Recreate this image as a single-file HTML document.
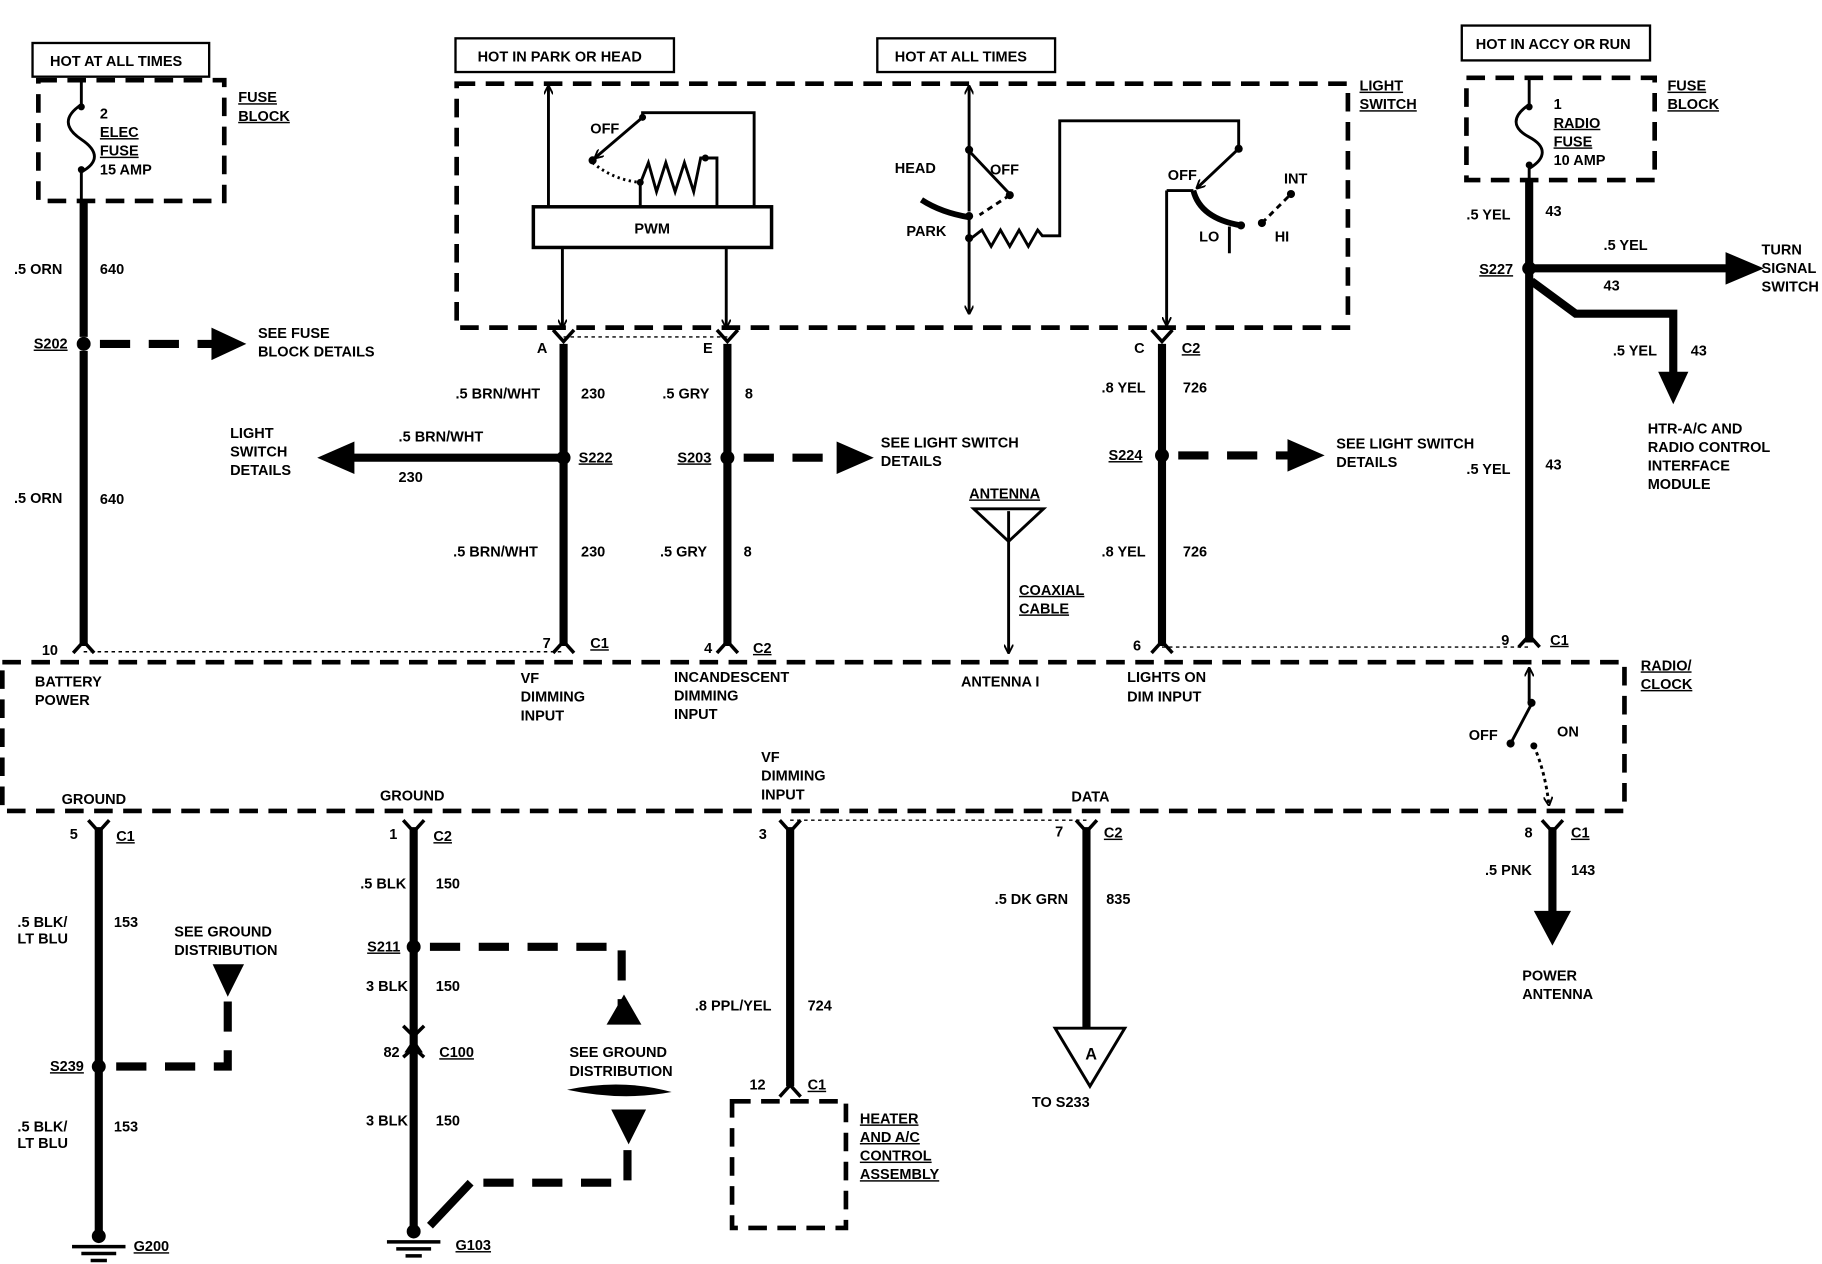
<!DOCTYPE html>
<html><head><meta charset="utf-8"><style>
html,body{margin:0;padding:0;background:#fff;}
svg{display:block;}
text{font-family:"Liberation Sans",sans-serif;font-weight:bold;font-size:12.5px;fill:#000;}
.u{text-decoration:underline;}
</style></head><body>
<svg width="1822" height="1264" viewBox="0 0 1568 1088" preserveAspectRatio="none" xmlns="http://www.w3.org/2000/svg">
<defs>
<marker id="ah" viewBox="0 0 10 10" refX="9" refY="5" markerWidth="8" markerHeight="8" orient="auto" markerUnits="userSpaceOnUse"><path d="M0,0 L10,5 L0,10" fill="none" stroke="#000" stroke-width="2"/></marker>
</defs>
<g fill="none" stroke="#000">
<!-- source boxes -->
<rect x="28" y="37" width="152" height="29" stroke-width="2"/>
<rect x="392" y="33" width="188" height="29" stroke-width="2"/>
<rect x="755" y="33" width="153" height="29" stroke-width="2"/>
<rect x="1258" y="22" width="162" height="30" stroke-width="2"/>
<!-- dashed boxes -->
<g stroke-width="4" stroke-dasharray="16 9">
<rect x="33" y="69" width="160" height="104"/>
<rect x="393" y="72" width="767" height="210"/>
<rect x="1262" y="67" width="162" height="88"/>
<rect x="2" y="570" width="1396" height="128"/>
<rect x="630" y="948" width="98" height="109"/>
</g>
<!-- fuses -->
<path d="M70,70 V90 C55,100 55,110 70,120 C85,130 85,140 70,148 V173" stroke-width="2.5"/>
<path d="M1316,68 V90 C1301,100 1301,110 1316,118 C1331,126 1331,136 1316,145 V158" stroke-width="2.5"/>
<!-- thick wires -->
<g stroke-width="7">
<path d="M72,173 V290 M72,302 V556"/>
<path d="M485,296 V556 M626,296 V556 M1000,296 V556"/>
<path d="M1316,155 V553"/>
<path d="M1320,231 H1490"/>
<path d="M1318,242 L1356,270 H1440 V322"/>
<path d="M485,394 H300"/>
<path d="M85,712 V1062 M356,712 V1058 M680,712 V935 M935,712 V886 M1336,712 V790"/>
<path d="M370,1055 L405,1018"/>
</g>
<!-- dashed thick -->
<g stroke-width="7" stroke-dasharray="26 16">
<path d="M86,296 H185"/>
<path d="M640,394 H722"/>
<path d="M1014,392 H1110"/>
<path d="M370,815 H535 V875"/>
<path d="M540,990 V1018 H405"/>
<path d="M196,862 V918 H96"/>
</g>
<!-- dotted thin -->
<g stroke-width="1.2" stroke-dasharray="3 3">
<path d="M485,290 H626 M72,561 H485 M1000,557 H1316 M680,706 H935"/>
</g>
<!-- light switch internals -->
<g stroke-width="2.5">
<rect x="459" y="178" width="205" height="35" stroke-width="3"/>
<path d="M472,178 V74" marker-end="url(#ah)"/>
<path d="M484,213 V282" marker-end="url(#ah)"/>
<path d="M625,213 V282" marker-end="url(#ah)"/>
<path d="M553,101 L512,136" marker-end="url(#ah)"/>
<path d="M553,101 V97 H649 V178"/>
<path d="M551,178 V158 L558,140 L565,165 L573,140 L581,165 L589,140 L597,165 L603,136 H617 V178"/>
<path d="M510,140 Q528,155 551,157" stroke-dasharray="2 3"/>
<path d="M834,182 V74" marker-end="url(#ah)"/>
<path d="M834,130 L869,167"/>
<path d="M869,168 L843,185" stroke-dasharray="5 4"/>
<path d="M793,172 Q810,183 834,187" stroke-width="5"/>
<path d="M834,187 V270" marker-end="url(#ah)"/>
<path d="M836,205 L845,198 L853,212 L861,198 L869,212 L877,198 L885,212 L893,198 L897,203 H912 V104 H1066 V128"/>
<path d="M1066,128 L1030,162" marker-end="url(#ah)"/>
<path d="M1004,164 H1027 M1004,164 V280" marker-end="url(#ah)"/>
<path d="M1027,164 Q1033,188 1068,194" stroke-width="5"/>
<path d="M1058,195 V218"/>
<path d="M1086,192 L1111,167" stroke-dasharray="5 4"/>
<path d="M868,440 V562" marker-end="url(#ah)"/>
<path d="M838,438 H898 L868,466 Z"/>
<path d="M1316,605 V575" marker-end="url(#ah)"/>
<path d="M1318,606 L1300,640"/>
<path d="M1320,642 Q1330,665 1333,693" stroke-dasharray="3 3" marker-end="url(#ah)"/>
<path d="M908,885 H968 L938,935 Z"/>
</g>
<!-- connectors (Y) -->
<g stroke-width="3">
<path d="M476,284 L485,294 L494,284 M617,284 L626,294 L635,284 M991,284 L1000,294 L1009,284"/>
<path d="M63,562 L72,552 L81,562 M476,562 L485,552 L494,562 M617,562 L626,552 L635,562 M991,562 L1000,552 L1009,562 M1307,557 L1316,547 L1325,557"/>
<path d="M76,706 L85,716 L94,706 M347,706 L356,716 L365,706 M671,706 L680,716 L689,706 M926,706 L935,716 L944,706 M1327,706 L1336,716 L1345,706"/>
<path d="M671,944 L680,934 L689,944"/>
<path d="M347,883 L356,892 L365,883 M347,910 L356,902 L365,910"/>
<path d="M62,1073 H108 M70,1079 H100 M78,1085 H92"/>
<path d="M333,1069 H379 M341,1075 H371 M349,1081 H363"/>
</g>
</g>
<!-- filled bits -->
<g fill="#000">
<circle cx="72" cy="296" r="6"/><circle cx="485" cy="394" r="6"/><circle cx="626" cy="394" r="6"/><circle cx="1000" cy="392" r="6"/>
<circle cx="1316" cy="231" r="6"/><circle cx="85" cy="918" r="6"/><circle cx="356" cy="815" r="6"/>
<circle cx="85" cy="1064" r="6"/><circle cx="356" cy="1060" r="6"/>
<circle cx="70" cy="92" r="3"/><circle cx="70" cy="146" r="3"/><circle cx="1316" cy="92" r="3"/><circle cx="1316" cy="142" r="3"/>
<circle cx="553" cy="101" r="3"/><circle cx="510" cy="138" r="3.5"/><circle cx="551" cy="157" r="3"/><circle cx="607" cy="136" r="3"/>
<circle cx="834" cy="129" r="3.5"/><circle cx="869" cy="168" r="3.5"/><circle cx="834" cy="186" r="3.5"/><circle cx="834" cy="205" r="3.5"/>
<circle cx="1066" cy="128" r="3.5"/><circle cx="1086" cy="192" r="3.5"/><circle cx="1111" cy="167" r="3.5"/><circle cx="1068" cy="194" r="3.5"/>
<circle cx="1318" cy="605" r="3.5"/><circle cx="1300" cy="640" r="3.5"/><circle cx="1320" cy="642" r="3"/>
<polygon points="182,282 212,296 182,310"/>
<polygon points="305,380 273,394 305,408"/>
<polygon points="720,380 752,394 720,408"/>
<polygon points="1108,378 1140,392 1108,406"/>
<polygon points="1485,217 1518,231 1485,245"/>
<polygon points="1427,320 1440,348 1453,320"/>
<polygon points="1320,784 1336,814 1352,784"/>
<polygon points="183,830 210,830 196,858"/>
<polygon points="522,882 552,882 537,856"/>
<polygon points="526,955 556,955 541,985"/>
<polygon points="348,906 356,894 364,906"/>
<path d="M488,938 Q535,928 578,940 Q535,948 488,938Z"/>
</g>
<!-- text -->
<text x="43" y="57">HOT AT ALL TIMES</text>
<text x="411" y="53">HOT IN PARK OR HEAD</text>
<text x="770" y="53">HOT AT ALL TIMES</text>
<text x="1270" y="42">HOT IN ACCY OR RUN</text>
<text x="86" y="102">2</text><text x="86" y="118" class="u">ELEC</text><text x="86" y="134" class="u">FUSE</text><text x="86" y="150">15 AMP</text>
<text x="205" y="88" class="u">FUSE</text><text x="205" y="104" class="u">BLOCK</text>
<text x="1337" y="94">1</text><text x="1337" y="110" class="u">RADIO</text><text x="1337" y="126" class="u">FUSE</text><text x="1337" y="142">10 AMP</text>
<text x="1435" y="78" class="u">FUSE</text><text x="1435" y="94" class="u">BLOCK</text>
<text x="1170" y="78" class="u">LIGHT</text><text x="1170" y="94" class="u">SWITCH</text>
<text x="546" y="201">PWM</text>
<text x="508" y="115">OFF</text>
<text x="770" y="149">HEAD</text><text x="852" y="150">OFF</text><text x="780" y="203">PARK</text>
<text x="1005" y="155">OFF</text><text x="1105" y="158">INT</text><text x="1032" y="208">LO</text><text x="1097" y="208">HI</text>
<text x="12" y="236">.5 ORN</text><text x="86" y="236">640</text>
<text x="29" y="300" class="u">S202</text>
<text x="222" y="291">SEE FUSE</text><text x="222" y="307">BLOCK DETAILS</text>
<text x="12" y="433">.5 ORN</text><text x="86" y="434">640</text>
<text x="462" y="304">A</text><text x="605" y="304">E</text><text x="976" y="304">C</text><text x="1017" y="304" class="u">C2</text>
<text x="392" y="343">.5 BRN/WHT</text><text x="500" y="343">230</text>
<text x="570" y="343">.5 GRY</text><text x="641" y="343">8</text>
<text x="948" y="338">.8 YEL</text><text x="1018" y="338">726</text>
<text x="198" y="377">LIGHT</text><text x="198" y="393">SWITCH</text><text x="198" y="409">DETAILS</text>
<text x="343" y="380">.5 BRN/WHT</text><text x="343" y="415">230</text>
<text x="498" y="398" class="u">S222</text>
<text x="583" y="398" class="u">S203</text>
<text x="758" y="385">SEE LIGHT SWITCH</text><text x="758" y="401">DETAILS</text>
<text x="954" y="396" class="u">S224</text>
<text x="1150" y="386">SEE LIGHT SWITCH</text><text x="1150" y="402">DETAILS</text>
<text x="834" y="429" class="u">ANTENNA</text>
<text x="877" y="512" class="u">COAXIAL</text><text x="877" y="528" class="u">CABLE</text>
<text x="390" y="479">.5 BRN/WHT</text><text x="500" y="479">230</text>
<text x="568" y="479">.5 GRY</text><text x="640" y="479">8</text>
<text x="948" y="479">.8 YEL</text><text x="1018" y="479">726</text>
<text x="36" y="564">10</text>
<text x="467" y="558">7</text><text x="508" y="558" class="u">C1</text>
<text x="606" y="562">4</text><text x="648" y="562" class="u">C2</text>
<text x="975" y="560">6</text>
<text x="1292" y="555">9</text><text x="1334" y="555" class="u">C1</text>
<text x="30" y="591">BATTERY</text><text x="30" y="607">POWER</text>
<text x="448" y="588">VF</text><text x="448" y="604">DIMMING</text><text x="448" y="620">INPUT</text>
<text x="580" y="587">INCANDESCENT</text><text x="580" y="603">DIMMING</text><text x="580" y="619">INPUT</text>
<text x="827" y="591">ANTENNA I</text>
<text x="970" y="587">LIGHTS ON</text><text x="970" y="604">DIM INPUT</text>
<text x="1412" y="577" class="u">RADIO/</text><text x="1412" y="593" class="u">CLOCK</text>
<text x="1264" y="637">OFF</text><text x="1340" y="634">ON</text>
<text x="1262" y="189">.5 YEL</text><text x="1330" y="186">43</text>
<text x="1273" y="236" class="u">S227</text>
<text x="1380" y="215">.5 YEL</text><text x="1380" y="250">43</text>
<text x="1516" y="219">TURN</text><text x="1516" y="235">SIGNAL</text><text x="1516" y="251">SWITCH</text>
<text x="1388" y="306">.5 YEL</text><text x="1455" y="306">43</text>
<text x="1418" y="373">HTR-A/C AND</text><text x="1418" y="389">RADIO CONTROL</text><text x="1418" y="405">INTERFACE</text><text x="1418" y="421">MODULE</text>
<text x="1262" y="408">.5 YEL</text><text x="1330" y="404">43</text>
<text x="53" y="692">GROUND</text><text x="327" y="689">GROUND</text>
<text x="655" y="656">VF</text><text x="655" y="672">DIMMING</text><text x="655" y="688">INPUT</text>
<text x="922" y="690">DATA</text>
<text x="60" y="722">5</text><text x="100" y="724" class="u">C1</text>
<text x="335" y="722">1</text><text x="373" y="724" class="u">C2</text>
<text x="653" y="722">3</text>
<text x="908" y="720">7</text><text x="950" y="721" class="u">C2</text>
<text x="1312" y="721">8</text><text x="1352" y="721" class="u">C1</text>
<text x="310" y="765">.5 BLK</text><text x="375" y="765">150</text>
<text x="1278" y="753">.5 PNK</text><text x="1352" y="753">143</text>
<text x="856" y="778">.5 DK GRN</text><text x="952" y="778">835</text>
<text x="15" y="798">.5 BLK/</text><text x="15" y="812">LT BLU</text><text x="98" y="798">153</text>
<text x="150" y="806">SEE GROUND</text><text x="150" y="822">DISTRIBUTION</text>
<text x="316" y="819" class="u">S211</text>
<text x="1310" y="844">POWER</text><text x="1310" y="860">ANTENNA</text>
<text x="315" y="853">3 BLK</text><text x="375" y="853">150</text>
<text x="598" y="870">.8 PPL/YEL</text><text x="695" y="870">724</text>
<text x="330" y="910">82</text><text x="378" y="910" class="u">C100</text>
<text x="490" y="910">SEE GROUND</text><text x="490" y="926">DISTRIBUTION</text>
<text x="934" y="912" style="font-size:14px">A</text>
<text x="43" y="922" class="u">S239</text>
<text x="645" y="938">12</text><text x="695" y="938" class="u">C1</text>
<text x="888" y="953">TO S233</text>
<text x="740" y="967" class="u">HEATER</text><text x="740" y="983" class="u">AND A/C</text><text x="740" y="999" class="u">CONTROL</text><text x="740" y="1015" class="u">ASSEMBLY</text>
<text x="315" y="969">3 BLK</text><text x="375" y="969">150</text>
<text x="15" y="974">.5 BLK/</text><text x="15" y="988">LT BLU</text><text x="98" y="974">153</text>
<text x="115" y="1077" class="u">G200</text><text x="392" y="1076" class="u">G103</text>
</svg>
</body></html>
